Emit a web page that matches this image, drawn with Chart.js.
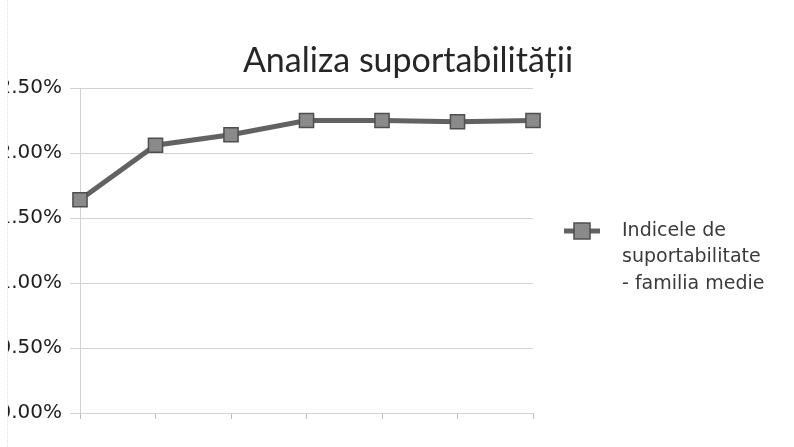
<!DOCTYPE html>
<html>
<head>
<meta charset="utf-8">
<script src="https://cdn.jsdelivr.net/npm/chart.js@4.4.1/dist/chart.umd.min.js"></script>
<style>
  html, body { margin: 0; padding: 0; background: #fff; overflow: hidden; }
  body { width: 794px; height: 447px; position: relative; }
  /* the scan is cropped a few px inside the left edge */
  #clip { position: absolute; left: 7px; top: 0; width: 787px; height: 447px; overflow: hidden; border-left: 1px dotted #e2e2e2; }
  #wrap { position: absolute; left: -18px; top: 0; width: 836px; height: 447px; }
</style>
</head>
<body>
<div id="clip"><div id="wrap"><canvas id="chart" width="836" height="447"></canvas></div></div>
<script>
// Data
const categories = ['1', '2', '3', '4', '5', '6', '7'];
const indiceValues = [11.64, 12.06, 12.14, 12.25, 12.25, 12.24, 12.25];
const seriesName = ['Indicele de', 'suportabilitate', '- familia medie'];
const chartTitle = 'Analiza suportabilității';

const lineColor = '#626262';
const markerFill = '#8a8a8a';
const markerBorder = '#4f4f4f';
const gridColor = '#d2d2d2';
const textFont = '"DejaVu Sans", sans-serif';

// Title + multi-line legend drawn by hand (built-in legend can't wrap text)
const scanDecor = {
  id: 'scanDecor',
  afterDraw(chart) {
    const ctx = chart.ctx;
    const ds = chart.data.datasets[0];
    ctx.save();

    ctx.fillStyle = '#262626';
    ctx.font = '34px Lato';
    ctx.textAlign = 'center';
    ctx.textBaseline = 'middle';
    ctx.fillText(chartTitle, 418, 61);

    // legend marker
    const mx = 592, my = 231;
    ctx.strokeStyle = ds.borderColor;
    ctx.lineWidth = 5;
    ctx.beginPath();
    ctx.moveTo(mx - 18, my);
    ctx.lineTo(mx + 18, my);
    ctx.stroke();
    ctx.fillStyle = ds.pointBackgroundColor;
    ctx.strokeStyle = ds.pointBorderColor;
    ctx.lineWidth = 1.5;
    ctx.fillRect(mx - 8, my - 8, 16, 16);
    ctx.strokeRect(mx - 8, my - 8, 16, 16);

    ctx.fillStyle = '#3a3a3a';
    ctx.font = '19px ' + textFont;
    ctx.textAlign = 'left';
    seriesName.forEach((t, i) => ctx.fillText(t, 632, 231 + i * 26.5));
    ctx.restore();
  }
};

new Chart(document.getElementById('chart'), {
  type: 'line',
  data: {
    labels: categories,
    datasets: [{
      label: seriesName.join(' '),
      data: indiceValues,
      borderColor: lineColor,
      borderWidth: 5,
      pointStyle: 'rect',
      pointRadius: 10,
      pointBackgroundColor: markerFill,
      pointBorderColor: markerBorder,
      pointBorderWidth: 1.5,
      tension: 0,
      fill: false,
    }],
  },
  options: {
    responsive: false,
    animation: false,
    events: [],
    layout: { padding: { top: 88, bottom: 34, left: 0, right: 293 } },
    plugins: {
      legend: { display: false },
      title: { display: false },
      tooltip: { enabled: false },
    },
    scales: {
      x: {
        offset: false,
        ticks: { display: false },
        grid: { drawOnChartArea: false, drawTicks: true, tickLength: 6, color: '#bdbdbd' },
        border: { display: true, color: gridColor },
        afterFit: s => { s.height = 0; },
      },
      y: {
        min: 10,
        max: 12.5,
        ticks: {
          stepSize: 0.5,
          padding: 8,
          color: '#1e1e1e',
          font: { size: 20, family: textFont },
          callback: v => v.toFixed(2) + '%',
        },
        grid: { color: gridColor, tickLength: 10 },
        border: { display: true, color: gridColor },
        afterFit: s => { s.width = 90; },
      },
    },
  },
  plugins: [scanDecor],
});
</script>
</body>
</html>
